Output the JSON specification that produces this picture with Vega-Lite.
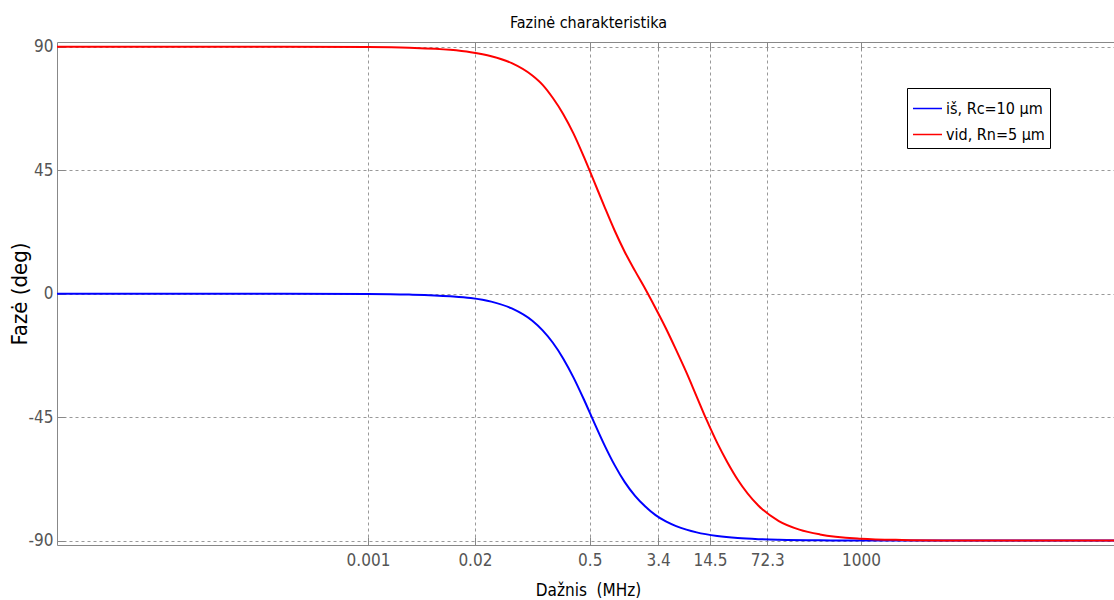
{
  "$schema": "https://vega.github.io/schema/vega-lite/v6.json",
  "autosize": {"type": "none"},
  "padding": {"left": 57, "top": 42, "right": 0, "bottom": 55},
  "width": 1057,
  "height": 503,
  "background": "white",
  "title": {
    "text": "Fazinė charakteristika",
    "anchor": "middle",
    "font": "DejaVu Sans Condensed, Liberation Sans",
    "fontSize": 16,
    "fontWeight": "normal",
    "color": "#000000",
    "offset": 7,
    "dx": 3
  },
  "config": {
    "view": {"stroke": null},
    "axis": {
      "domainColor": "#888888",
      "tickColor": "#888888",
      "gridColor": "#999999",
      "gridDash": [3, 3],
      "gridOpacity": 1,
      "labelColor": "#555555",
      "labelFont": "DejaVu Sans Condensed, Liberation Sans",
      "labelFontSize": 17,
      "titleFont": "DejaVu Sans Condensed, Liberation Sans",
      "titleFontWeight": "normal",
      "titleColor": "#000000"
    },
    "legend": {
      "orient": "none",
      "legendX": 850,
      "legendY": 46,
      "strokeColor": "#000000",
      "fillColor": "#ffffff",
      "padding": 5,
      "symbolType": "stroke",
      "symbolSize": 841,
      "symbolStrokeWidth": 1.5,
      "labelFont": "DejaVu Sans Condensed, Liberation Sans",
      "labelFontSize": 16,
      "labelColor": "#000000",
      "labelOffset": 3,
      "rowPadding": 2
    }
  },
  "data": {
    "values": [
      {"f": 1.64e-7, "phase": 0, "series": "iš, Rc=10 μm"},
      {"f": 0.0001, "phase": -0.01, "series": "iš, Rc=10 μm"},
      {"f": 0.001, "phase": -0.1, "series": "iš, Rc=10 μm"},
      {"f": 0.00316, "phase": -0.33, "series": "iš, Rc=10 μm"},
      {"f": 0.01, "phase": -0.95, "series": "iš, Rc=10 μm"},
      {"f": 0.01778, "phase": -1.6, "series": "iš, Rc=10 μm"},
      {"f": 0.03162, "phase": -2.9, "series": "iš, Rc=10 μm"},
      {"f": 0.05623, "phase": -5.4, "series": "iš, Rc=10 μm"},
      {"f": 0.1, "phase": -9.9, "series": "iš, Rc=10 μm"},
      {"f": 0.1334, "phase": -13.4, "series": "iš, Rc=10 μm"},
      {"f": 0.1778, "phase": -17.9, "series": "iš, Rc=10 μm"},
      {"f": 0.2371, "phase": -23.6, "series": "iš, Rc=10 μm"},
      {"f": 0.3162, "phase": -30.5, "series": "iš, Rc=10 μm"},
      {"f": 0.4217, "phase": -38.4, "series": "iš, Rc=10 μm"},
      {"f": 0.5623, "phase": -46.8, "series": "iš, Rc=10 μm"},
      {"f": 0.7499, "phase": -55.0, "series": "iš, Rc=10 μm"},
      {"f": 1.0, "phase": -62.4, "series": "iš, Rc=10 μm"},
      {"f": 1.3335, "phase": -68.7, "series": "iš, Rc=10 μm"},
      {"f": 1.778, "phase": -73.7, "series": "iš, Rc=10 μm"},
      {"f": 2.371, "phase": -77.6, "series": "iš, Rc=10 μm"},
      {"f": 3.162, "phase": -80.7, "series": "iš, Rc=10 μm"},
      {"f": 4.217, "phase": -83.0, "series": "iš, Rc=10 μm"},
      {"f": 5.623, "phase": -84.7, "series": "iš, Rc=10 μm"},
      {"f": 7.499, "phase": -86.0, "series": "iš, Rc=10 μm"},
      {"f": 10, "phase": -87.0, "series": "iš, Rc=10 μm"},
      {"f": 17.78, "phase": -88.3, "series": "iš, Rc=10 μm"},
      {"f": 31.62, "phase": -89.06, "series": "iš, Rc=10 μm"},
      {"f": 56.23, "phase": -89.47, "series": "iš, Rc=10 μm"},
      {"f": 100, "phase": -89.7, "series": "iš, Rc=10 μm"},
      {"f": 316.2, "phase": -89.91, "series": "iš, Rc=10 μm"},
      {"f": 1000, "phase": -89.97, "series": "iš, Rc=10 μm"},
      {"f": 10000, "phase": -90, "series": "iš, Rc=10 μm"},
      {"f": 1200000, "phase": -90, "series": "iš, Rc=10 μm"},
      {"f": 1.64e-7, "phase": 90, "series": "vid, Rn=5 μm"},
      {"f": 0.0001, "phase": 89.99, "series": "vid, Rn=5 μm"},
      {"f": 0.001, "phase": 89.88, "series": "vid, Rn=5 μm"},
      {"f": 0.00316, "phase": 89.62, "series": "vid, Rn=5 μm"},
      {"f": 0.01, "phase": 88.85, "series": "vid, Rn=5 μm"},
      {"f": 0.01778, "phase": 87.95, "series": "vid, Rn=5 μm"},
      {"f": 0.03162, "phase": 86.5, "series": "vid, Rn=5 μm"},
      {"f": 0.05623, "phase": 84.0, "series": "vid, Rn=5 μm"},
      {"f": 0.1, "phase": 79.5, "series": "vid, Rn=5 μm"},
      {"f": 0.1334, "phase": 76.1, "series": "vid, Rn=5 μm"},
      {"f": 0.1778, "phase": 71.3, "series": "vid, Rn=5 μm"},
      {"f": 0.2371, "phase": 65.5, "series": "vid, Rn=5 μm"},
      {"f": 0.3162, "phase": 58.4, "series": "vid, Rn=5 μm"},
      {"f": 0.4217, "phase": 50.0, "series": "vid, Rn=5 μm"},
      {"f": 0.5623, "phase": 41.0, "series": "vid, Rn=5 μm"},
      {"f": 0.7499, "phase": 31.9, "series": "vid, Rn=5 μm"},
      {"f": 1.0, "phase": 23.1, "series": "vid, Rn=5 μm"},
      {"f": 1.3335, "phase": 15.2, "series": "vid, Rn=5 μm"},
      {"f": 1.778, "phase": 8.3, "series": "vid, Rn=5 μm"},
      {"f": 2.371, "phase": 1.7, "series": "vid, Rn=5 μm"},
      {"f": 3.162, "phase": -5.3, "series": "vid, Rn=5 μm"},
      {"f": 4.217, "phase": -12.6, "series": "vid, Rn=5 μm"},
      {"f": 5.623, "phase": -20.5, "series": "vid, Rn=5 μm"},
      {"f": 7.499, "phase": -28.7, "series": "vid, Rn=5 μm"},
      {"f": 10, "phase": -37.5, "series": "vid, Rn=5 μm"},
      {"f": 13.34, "phase": -46.3, "series": "vid, Rn=5 μm"},
      {"f": 17.78, "phase": -54.4, "series": "vid, Rn=5 μm"},
      {"f": 23.71, "phase": -61.5, "series": "vid, Rn=5 μm"},
      {"f": 31.62, "phase": -67.8, "series": "vid, Rn=5 μm"},
      {"f": 56.23, "phase": -77.2, "series": "vid, Rn=5 μm"},
      {"f": 100, "phase": -82.87, "series": "vid, Rn=5 μm"},
      {"f": 177.8, "phase": -85.98, "series": "vid, Rn=5 μm"},
      {"f": 316.2, "phase": -87.74, "series": "vid, Rn=5 μm"},
      {"f": 1000, "phase": -89.28, "series": "vid, Rn=5 μm"},
      {"f": 3162, "phase": -89.77, "series": "vid, Rn=5 μm"},
      {"f": 10000, "phase": -89.93, "series": "vid, Rn=5 μm"},
      {"f": 100000, "phase": -89.99, "series": "vid, Rn=5 μm"},
      {"f": 1200000, "phase": -90, "series": "vid, Rn=5 μm"}
    ]
  },
  "layer": [
    {
      "mark": {"type": "line", "strokeWidth": 2, "interpolate": "monotone", "clip": true},
      "encoding": {
        "x": {
          "field": "f",
          "type": "quantitative",
          "scale": {"type": "log", "domain": [1.64e-7, 1200000], "nice": false},
          "axis": {
            "orient": "bottom",
            "values": [0.001, 0.02, 0.5, 3.4, 14.5, 72.3, 1000],
            "format": "~g",
            "grid": true,
            "tickSize": -8,
            "labelPadding": 15,
            "title": "Dažnis\u00a0 (MHz)",
            "titleFontSize": 17,
            "titleX": 531,
            "titleY": 45,
            "titleAlign": "center",
            "titleBaseline": "middle",
            "titleAnchor": null
          }
        },
        "y": {
          "field": "phase",
          "type": "quantitative",
          "scale": {"domain": [-91.6, 91.7], "nice": false, "zero": false},
          "axis": {
            "values": [-90, -45, 0, 45, 90],
            "labelExpr": "datum.value + ''",
            "grid": true,
            "tickSize": -8,
            "labelPadding": 12,
            "title": "Fazė (deg)",
            "titleFontSize": 22,
            "titleAngle": -90,
            "titleX": -38,
            "titleY": 251.5,
            "titleAlign": "center",
            "titleBaseline": "middle"
          }
        },
        "color": {
          "field": "series",
          "type": "nominal",
          "scale": {"domain": ["iš, Rc=10 μm", "vid, Rn=5 μm"], "range": ["#0000ff", "#ff0000"]},
          "legend": {"title": null}
        }
      }
    },
    {
      "mark": {"type": "line", "opacity": 0, "clip": true},
      "encoding": {
        "x": {
          "field": "f",
          "type": "quantitative",
          "axis": {
            "orient": "top",
            "values": [0.001, 0.02, 0.5, 3.4, 14.5, 72.3, 1000],
            "labels": false,
            "grid": false,
            "tickSize": -8,
            "title": null
          }
        },
        "y": {"field": "phase", "type": "quantitative"},
        "detail": {"field": "series"}
      }
    }
  ],
  "resolve": {"axis": {"x": "independent"}}
}
